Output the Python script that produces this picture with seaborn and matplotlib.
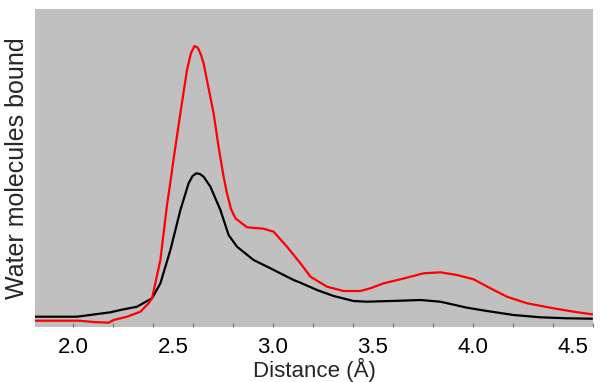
import matplotlib
matplotlib.use("Agg")
import matplotlib.pyplot as plt
import seaborn as sns
import numpy as np
from matplotlib.ticker import FixedLocator, NullFormatter

# Distance (Å) and water molecules bound (arbitrary units)
black_x = [1.81, 2.02, 2.187, 2.237, 2.32, 2.395, 2.437, 2.487, 2.537, 2.578, 2.598, 2.617,
           2.635, 2.653, 2.687, 2.737, 2.778, 2.82, 2.903, 2.987, 3.103, 3.137, 3.22, 3.303,
           3.403, 3.47, 3.637, 3.737, 3.837, 3.97, 4.07, 4.203, 4.337, 4.47, 4.595]
black_y = [10.3, 10.3, 14.7, 17, 20.3, 28.7, 43.7, 77, 117, 143.7, 151, 153.7,
           153, 150.3, 140.3, 117, 92, 80.3, 67, 58.7, 47, 44.3, 37, 31,
           26, 25.3, 26.3, 27, 25.3, 19.3, 16, 12, 9.7, 8.7, 8.3]

red_x = [1.81, 2.027, 2.103, 2.178, 2.203, 2.27, 2.337, 2.378, 2.395, 2.437, 2.47,
         2.487, 2.503, 2.537, 2.57, 2.59, 2.608, 2.625, 2.64, 2.653, 2.703, 2.728, 2.753,
         2.77, 2.79, 2.812, 2.87, 2.953, 3.003, 3.07, 3.137, 3.187, 3.27, 3.353, 3.437,
         3.487, 3.553, 3.637, 3.753, 3.837, 3.92, 4.003, 4.087, 4.17, 4.27, 4.403, 4.503, 4.595]
red_y = [6.3, 6.3, 5, 4.3, 7, 10.3, 15.3, 23.7, 28.7, 67, 122,
         145, 168, 214, 257, 274, 281, 279, 272, 263.7, 213.7, 180, 150.3,
         133.7, 118, 108.7, 99.7, 98.3, 95.3, 80.3, 63.7, 50.3, 40.3, 36, 36,
         38.7, 43.7, 47.7, 53.7, 54.7, 52, 47.7, 38.7, 30.3, 23.7, 18.7, 15.3, 12.7]

major_ticks = [2.0, 2.5, 3.0, 3.5, 4.0, 4.5]
tick_labels = ["2.0", "2.5", "3.0", "3.5", "4.0", "4.5"]

sns.set_theme(style="white")
plt.rcParams['font.family'] = ['Liberation Sans', 'DejaVu Sans']

fig = plt.figure(figsize=(6, 3.82), dpi=100)
ax = fig.add_axes([35/600, 55/382, 558/600, 318/382])
ax.set_facecolor("#c0c0c0")

sns.lineplot(x=black_x, y=black_y, ax=ax, color="black", linewidth=1.6, sort=False)
sns.lineplot(x=red_x, y=red_y, ax=ax, color="#ff0000", linewidth=1.6, sort=False)

ax.set_xlim(1.81, 4.6)
ax.set_ylim(0, 318)
for s in ax.spines.values():
    s.set_visible(False)

ax.xaxis.remove_overlapping_locs = False
ax.xaxis.set_major_locator(FixedLocator(major_ticks))
ax.set_xticklabels(tick_labels)
ax.xaxis.set_minor_locator(FixedLocator(list(np.round(np.arange(1.8, 4.61, 0.2), 2))))
ax.xaxis.set_minor_formatter(NullFormatter())
ax.tick_params(axis='x', which='major', length=0, pad=7, labelsize=16, colors='black')
ax.tick_params(axis='x', which='minor', bottom=True, direction='in', length=3, width=0.8, color='#707070')
ax.set_yticks([])

ax.set_xlabel("Distance (Å)", fontsize=16, labelpad=0)
ax.set_ylabel("Water molecules bound", fontsize=18, labelpad=4)

fig.savefig("out.png", dpi=100)
